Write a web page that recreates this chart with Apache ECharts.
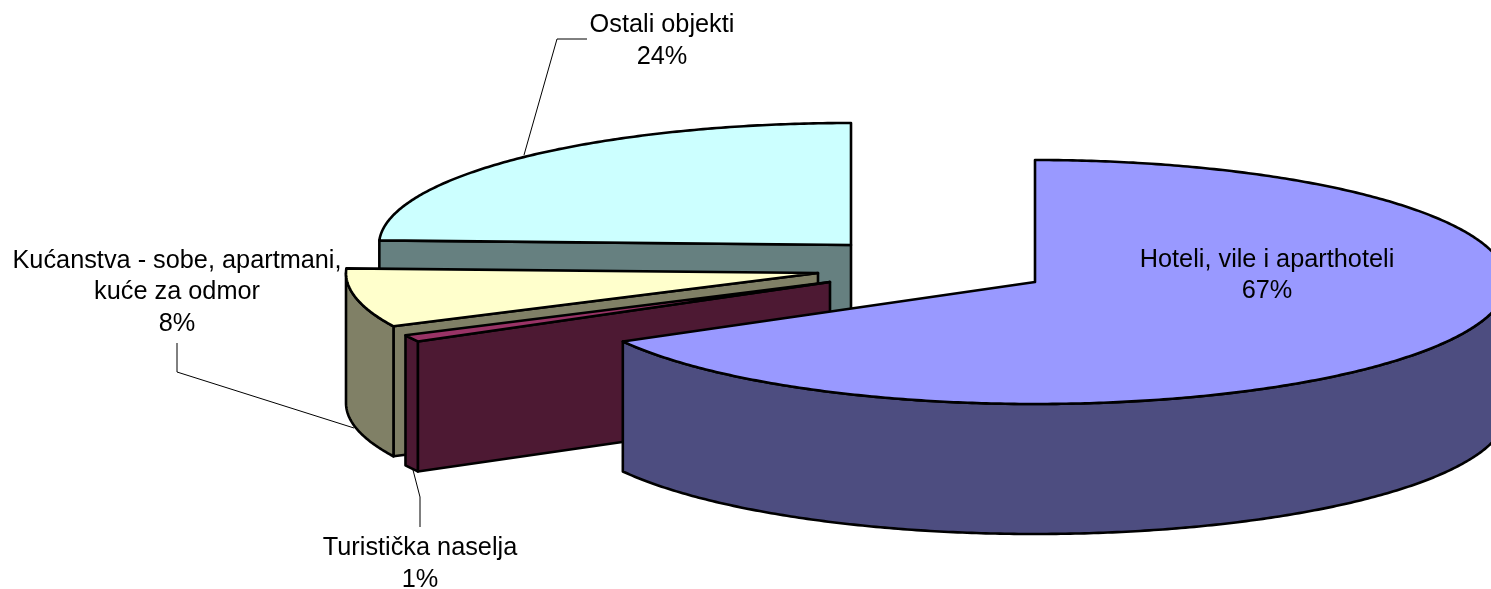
<!DOCTYPE html>
<html>

<head lang="hr">
  <meta charset="UTF-8">
  <title>Exploded 3D pie</title>
  <script src="https://cdn.jsdelivr.net/npm/echarts@6/dist/echarts.min.js"></script>
  <style>
  html, body {
    margin: 0;
    background: #fff;
  }
  #section {
    width: 1491px;
    height: 589px;
  }
  </style>
</head>

<body>
  <div id="section"></div>
</body>
<script>
// data
var categories = ['Hoteli, vile i aparthoteli', 'Turistička naselja', 'Kućanstva - sobe, apartmani,\nkuće za odmor', 'Ostali objekti'];
var shares = [66.9, 0.9, 7.8, 24.4];

// styles
var topColors = ['#9999FF', '#993366', '#FFFFCC', '#CCFFFF'];
var wallColors = ['#4D4D80', '#4D1933', '#808066', '#668080'];
var drawOrder = [4, 3, 2, 1];

// layout: flattened ellipse, wall height, where each exploded slice has its tip
var radiusX = 472;
var radiusY = 122;
var depth = 130;
var tips = [[1035, 282], [830, 282], [818, 273], [851, 245]];
var labelPos = [[1267, 275.5], [420, 564], [177, 292.5], [662, 41]];
var leaders = [
  null,
  [[413, 470], [420, 497], [420, 527]],
  [[177, 343], [177, 372], [354, 428]],
  [[587, 39], [557, 39], [524, 155]]
];

var myCharts = echarts.init(document.getElementById('section'));

var total = shares.reduce(function(a, b) { return a + b; }, 0);

var startAngle = function(index) {
  var sum = 0;
  for (var i = 0; i < index; i++) {
    sum += shares[i];
  }
  return sum / total * Math.PI * 2;
};

// angle runs clockwise from 12 o'clock
var rim = function(tip, angle, drop) {
  return [tip[0] + radiusX * Math.sin(angle), tip[1] - radiusY * Math.cos(angle) + drop];
};

var arc = function(tip, a0, a1, drop) {
  var pts = [];
  var steps = Math.max(2, Math.ceil((a1 - a0) / 0.01));
  for (var i = 0; i <= steps; i++) {
    pts.push(rim(tip, a0 + (a1 - a0) * i / steps, drop));
  }
  return pts;
};

var face = function(points, fill, z2) {
  return {
    type: 'polygon',
    z2: z2,
    shape: { points: points },
    style: { fill: fill, stroke: '#000', lineWidth: 2.6, lineJoin: 'round' }
  };
};

var renderSlice = function(params, api) {
  var i = params.dataIndex;
  var value = api.value(0);
  var a0 = startAngle(i);
  var a1 = a0 + value / total * Math.PI * 2;
  var tip = tips[i];
  var z = drawOrder[i] * 10;
  var children = [];

  // cut wall, only when it turns towards the viewer
  if (Math.sin(a0) < -0.001) {
    var p = rim(tip, a0, 0);
    children.push(face([tip, p, [p[0], p[1] + depth], [tip[0], tip[1] + depth]], wallColors[i], z));
  }

  // outer wall, front half of the rim only
  var from = Math.max(a0, Math.PI / 2);
  var to = Math.min(a1, Math.PI * 1.5);
  if (to > from) {
    var wall = arc(tip, from, to, 0).concat(arc(tip, from, to, depth).reverse());
    children.push(face(wall, wallColors[i], z + 1));
  }

  // top face
  children.push(face([tip].concat(arc(tip, a0, a1, 0)), topColors[i], z + 2));

  if (leaders[i]) {
    children.push({
      type: 'polyline',
      z2: 100,
      shape: { points: leaders[i] },
      style: { fill: null, stroke: '#000', lineWidth: 1 }
    });
  }

  children.push({
    type: 'text',
    z2: 101,
    style: {
      x: labelPos[i][0],
      y: labelPos[i][1],
      text: categories[i] + '\n' + Math.round(value) + '%',
      fill: '#000',
      align: 'center',
      verticalAlign: 'middle',
      fontFamily: 'Liberation Sans',
      fontSize: 25.3,
      lineHeight: 31.5
    }
  });

  return { type: 'group', children: children };
};

option = {
  backgroundColor: '#fff',
  animation: false,
  series: [{
    type: 'custom',
    coordinateSystem: 'none',
    clip: false,
    renderItem: renderSlice,
    data: shares
  }]
};

myCharts.setOption(option);
</script>

</html>
